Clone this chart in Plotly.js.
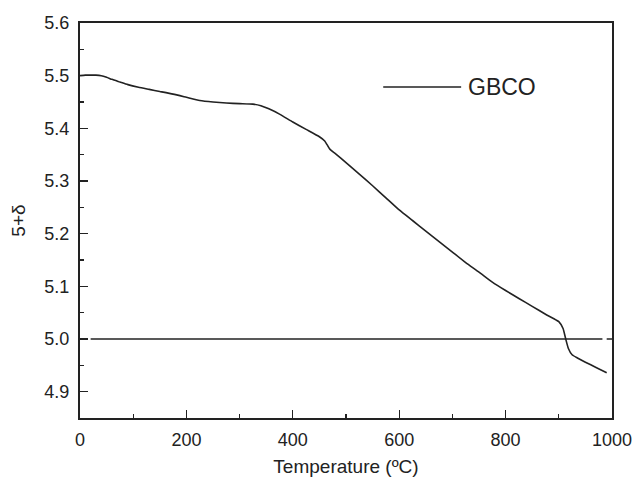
<!DOCTYPE html>
<html>
<head>
<meta charset="utf-8">
<script src="https://cdn.plot.ly/plotly-3.0.1.min.js"></script>
<style>html,body{margin:0;padding:0;background:#fff;}#chart{width:634px;height:477px;}</style>
</head>
<body>
<div id="chart"></div>
<script>
// Temperature (°C) and oxygen content 5+δ for GBCO
const temperature = [0,10,20,30,40,50,60,75,90,110,130,150,175,200,225,250,275,300,325,340,355,375,400,425,450,460,465,470,480,500,525,550,575,600,625,650,675,700,725,750,775,800,825,850,875,900,908,913,918,925,935,950,970,990];
const oxygen = [5.500,5.501,5.501,5.501,5.500,5.497,5.493,5.488,5.483,5.478,5.474,5.470,5.465,5.459,5.453,5.450,5.448,5.447,5.446,5.443,5.437,5.427,5.412,5.398,5.384,5.376,5.368,5.360,5.352,5.335,5.313,5.291,5.268,5.245,5.225,5.205,5.185,5.165,5.145,5.127,5.108,5.092,5.077,5.062,5.047,5.033,5.020,5.000,4.982,4.970,4.964,4.956,4.946,4.936];
// Reference line at 5+δ = 5.0
const refX1 = [20, 982];
const refX2 = [990, 1000];
const refY = [5.0, 5.0];
const seriesName = "GBCO";
const xTicks = [0,200,400,600,800,1000];
const yTicks = [4.9,5.0,5.1,5.2,5.3,5.4,5.5,5.6];

const lineColor = "#222";
const traces = [
  {x: temperature, y: oxygen, type: "scatter", mode: "lines", line: {color: lineColor, width: 1.6, shape: "spline", smoothing: 0.5}, name: seriesName, hoverinfo: "skip"},
  {x: refX1, y: refY, type: "scatter", mode: "lines", line: {color: lineColor, width: 1.5}, hoverinfo: "skip"},
  {x: refX2, y: refY, type: "scatter", mode: "lines", line: {color: lineColor, width: 1.5}, hoverinfo: "skip"}
];

const layout = {
  width: 634, height: 477,
  margin: {l: 79.5, r: 22, t: 23, b: 58.5},
  paper_bgcolor: "#fff", plot_bgcolor: "#fff",
  showlegend: false,
  font: {family: "Liberation Sans, Arial, sans-serif", color: "#222", size: 18},
  xaxis: {
    range: [0, 1000], tickvals: xTicks, ticktext: xTicks.map(String),
    tickfont: {size: 18},
    ticks: "inside", ticklen: 8, tickwidth: 1.3, tickcolor: lineColor,
    minor: {dtick: 100, ticks: "inside", ticklen: 4, tickwidth: 1.2, tickcolor: lineColor},
    showline: true, linecolor: lineColor, linewidth: 2, mirror: true,
    showgrid: false, zeroline: false, ticklabelstandoff: 4,
    title: {text: "Temperature (ºC)", font: {size: 19}, standoff: 11}
  },
  yaxis: {
    range: [4.85, 5.6], tickvals: yTicks, ticktext: yTicks.map(v => v.toFixed(1)),
    tickfont: {size: 18},
    ticks: "inside", ticklen: 8, tickwidth: 1.3, tickcolor: lineColor,
    minor: {dtick: 0.05, tick0: 4.85, ticks: "inside", ticklen: 4, tickwidth: 1.2, tickcolor: lineColor},
    showline: true, linecolor: lineColor, linewidth: 2, mirror: true,
    showgrid: false, zeroline: false, ticklabelstandoff: 5,
    title: {text: "5+δ", font: {size: 19}, standoff: 14}
  },
  shapes: [
    {type: "line", xref: "paper", yref: "paper", x0: (383-79.5)/532.5, x1: (461-79.5)/532.5, y0: (418.5-87)/395.5, y1: (418.5-87)/395.5, line: {color: lineColor, width: 1.5}}
  ],
  annotations: [
    {xref: "paper", yref: "paper", x: (466-79.5)/532.5, y: (418.5-87)/395.5, xanchor: "left", yanchor: "middle", text: seriesName, showarrow: false, font: {size: 23, color: "#222"}}
  ]
};

Plotly.newPlot("chart", traces, layout, {displayModeBar: false, staticPlot: true});
</script>
</body>
</html>
